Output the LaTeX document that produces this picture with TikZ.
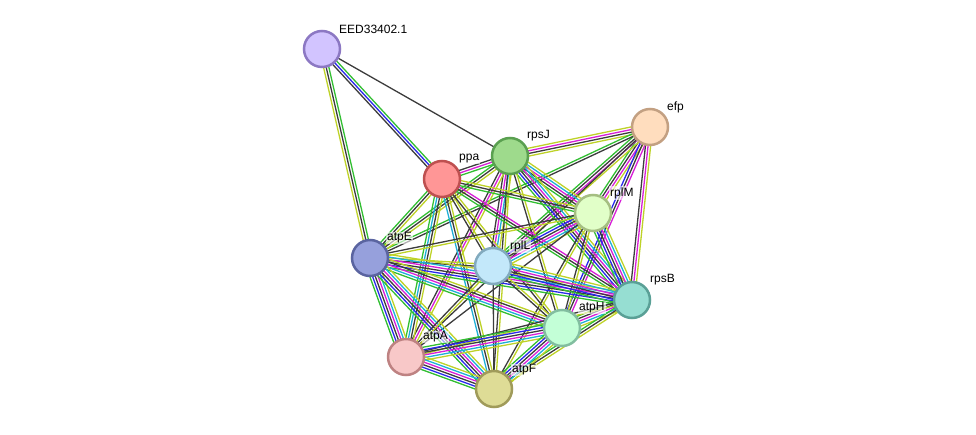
\documentclass[tikz,border=0pt]{standalone}
\usepackage{fontspec}
\setmainfont{Liberation Sans}
\usetikzlibrary{calc,backgrounds}
\definecolor{cg}{RGB}{50,190,50}
\definecolor{ck}{RGB}{60,60,60}
\definecolor{cm}{RGB}{215,30,215}
\definecolor{cc}{RGB}{30,175,215}
\definecolor{cb}{RGB}{40,40,235}
\definecolor{cy}{RGB}{190,210,40}
\tikzset{
  ecg/.style={draw=cg,line width=1.3pt},
  eck/.style={draw=ck,line width=1.3pt},
  ecm/.style={draw=cm,line width=1.3pt},
  ecc/.style={draw=cc,line width=1.3pt},
  ecb/.style={draw=cb,line width=1.3pt},
  ecy/.style={draw=cy,line width=1.3pt},
  prot/.style={circle,minimum size=36pt,inner sep=0pt,line width=2.5pt},
  lbl/.style={anchor=west,font=\fontsize{12}{14}\selectfont,inner sep=1pt,fill=white,fill opacity=0.6,text opacity=1}
}
\newcommand\bund[3]{%
  \xdef\bcnt{0}%
  \foreach \c in {#3}{\pgfmathtruncatemacro\tmp{\bcnt+1}\xdef\bcnt{\tmp}}%
  \foreach \c [count=\i] in {#3}{%
    \pgfmathsetmacro\off{(\i-(\bcnt+1)/2)*2.6}%
    \draw[ec\c] ($(#1.center)!\off pt!90:(#2.center)$) -- ($(#2.center)!\off pt!-90:(#1.center)$);
  }}
\begin{document}
\begin{tikzpicture}[x=1pt,y=-1pt]
\useasboundingbox (0,0) rectangle (976,435);
% nodes
\node[prot,draw={rgb,255:red,140;green,120;blue,195},fill={rgb,255:red,210;green,196;blue,255}] (E) at (322,49) {};
\node[prot,draw={rgb,255:red,90;green,160;blue,80},fill={rgb,255:red,158;green,218;blue,140}] (J) at (510,156) {};
\node[prot,draw={rgb,255:red,190;green,80;blue,80},fill={rgb,255:red,255;green,150;blue,150}] (P) at (442,179) {};
\node[prot,draw={rgb,255:red,195;green,160;blue,130},fill={rgb,255:red,255;green,221;blue,190}] (F) at (650,127) {};
\node[prot,draw={rgb,255:red,165;green,190;blue,130},fill={rgb,255:red,225;green,255;blue,200}] (M) at (593,213) {};
\node[prot,draw={rgb,255:red,90;green,100;blue,160},fill={rgb,255:red,150;green,160;blue,220}] (AE) at (370,258) {};
\node[prot,draw={rgb,255:red,130;green,170;blue,190},fill={rgb,255:red,195;green,232;blue,250}] (L) at (493,266) {};
\node[prot,draw={rgb,255:red,90;green,160;blue,150},fill={rgb,255:red,150;green,222;blue,210}] (B) at (632,300) {};
\node[prot,draw={rgb,255:red,130;green,190;blue,160},fill={rgb,255:red,195;green,255;blue,215}] (H) at (562,328) {};
\node[prot,draw={rgb,255:red,190;green,130;blue,130},fill={rgb,255:red,248;green,200;blue,200}] (A) at (406,357) {};
\node[prot,draw={rgb,255:red,160;green,155;blue,90},fill={rgb,255:red,222;green,220;blue,150}] (AF) at (494,389) {};
% labels
\node[lbl] (lE) at (338,29) {EED33402.1};
\node[lbl] (lJ) at (526,136) {rpsJ};
\node[lbl] (lP) at (458,159) {ppa};
\node[lbl] (lF) at (666,107) {efp};
\node[lbl] (lM) at (609,193) {rplM};
\node[lbl] (lAE) at (386,238) {atpE};
\node[lbl] (lL) at (509,246) {rplL};
\node[lbl] (lB) at (649,280) {rpsB};
\node[lbl] (lH) at (578,308) {atpH};
\node[lbl] (lA) at (422,337) {atpA};
\node[lbl] (lAF) at (511,370) {atpF};
\begin{pgfonlayer}{background}
\bund{E}{J}{k}
\bund{E}{P}{k,b,g}
\bund{E}{AE}{y,k,g}
\bund{F}{J}{y,m,k,y}
\bund{F}{M}{g,k,m,y}
\bund{F}{L}{g,k,m,y}
\bund{F}{B}{k,m,y}
\bund{F}{H}{b,k,m}
\bund{F}{AE}{g,k}
\bund{F}{A}{k}
\bund{J}{P}{k,m,g}
\bund{J}{M}{g,k,m,c,y}
\bund{J}{L}{k,m,c,y}
\bund{J}{B}{g,b,k,m,c,y}
\bund{J}{H}{k,y}
\bund{J}{AE}{g,k,y}
\bund{J}{A}{k,m,y}
\bund{J}{AF}{k,y}
\bund{P}{M}{g,k,y}
\bund{P}{L}{k,y}
\bund{P}{B}{g,k,m}
\bund{P}{H}{k,y}
\bund{P}{AE}{g,k,y}
\bund{P}{A}{g,c,k,y}
\bund{P}{AF}{c,k,y}
\bund{M}{L}{g,b,k,m,c,y}
\bund{M}{B}{g,b,k,m,c,y}
\bund{M}{H}{k,y}
\bund{M}{AE}{k,y}
\bund{M}{A}{k}
\bund{M}{AF}{k,y}
\bund{AE}{L}{k,y}
\bund{AE}{B}{g,b,k,m,c,y}
\bund{AE}{H}{g,c,m,k,y}
\bund{AE}{A}{g,b,k,m,c,y}
\bund{AE}{AF}{g,b,k,m,c,y}
\bund{L}{B}{g,b,k,m,c,y}
\bund{L}{H}{k,y}
\bund{L}{A}{k,y}
\bund{L}{AF}{k}
\bund{B}{H}{g,k,m,c,y}
\bund{B}{A}{k,y}
\bund{B}{AF}{g,k,y}
\bund{H}{A}{g,b,k,m,c,y}
\bund{H}{AF}{g,b,k,m,c,y}
\bund{A}{AF}{g,b,k,m,c,y}
\end{pgfonlayer}
\end{tikzpicture}
\end{document}
